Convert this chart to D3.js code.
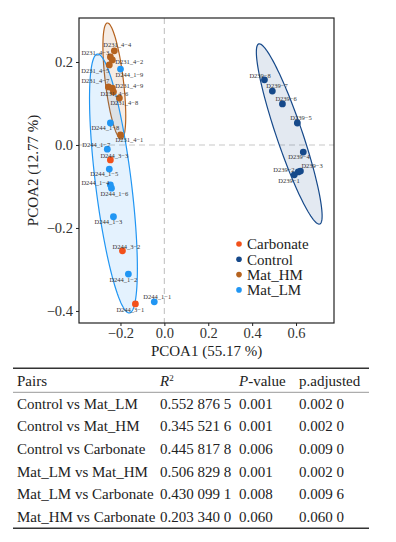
<!DOCTYPE html>
<html>
<head>
<meta charset="utf-8">
<script src="https://cdn.jsdelivr.net/npm/d3@7.9.0/dist/d3.min.js"></script>
<style>
  body { margin: 0; background: #fff; }
  svg text { font-family: "Liberation Serif", "Times New Roman", serif; }
</style>
</head>
<body>
<svg id="chart" width="396" height="542"></svg>
<script>
// sample scores on PCOA1 / PCOA2
const groups = ['Carbonate', 'Control', 'Mat_HM', 'Mat_LM'];
const groupColors = ['#f2511b', '#16498a', '#b5621e', '#2196f3'];

const sampleNames = [
  'D239−8', 'D239−7', 'D239−6', 'D239−5', 'D239−4', 'D239−3', 'D239−2', 'D239−1',
  'D231_4−4', 'D231_4−3', 'D231_4−2', 'D231_4−5', 'D231_4−7', 'D231_4−9', 'D231_4−6', 'D231_4−8', 'D231_4−1',
  'D244_1−9', 'D244_1−8', 'D244_1−7', 'D244_1−5', 'D244_1−4', 'D244_1−6', 'D244_1−3', 'D244_1−2', 'D244_1−1',
  'D244_3−3', 'D244_3−2', 'D244_3−1'
];
const sampleGroup = [
  'Control', 'Control', 'Control', 'Control', 'Control', 'Control', 'Control', 'Control',
  'Mat_HM', 'Mat_HM', 'Mat_HM', 'Mat_HM', 'Mat_HM', 'Mat_HM', 'Mat_HM', 'Mat_HM', 'Mat_HM',
  'Mat_LM', 'Mat_LM', 'Mat_LM', 'Mat_LM', 'Mat_LM', 'Mat_LM', 'Mat_LM', 'Mat_LM', 'Mat_LM',
  'Carbonate', 'Carbonate', 'Carbonate'
];
const pcoa1 = [
  0.456, 0.492, 0.538, 0.606, 0.633, 0.620, 0.610, 0.592,
  -0.228, -0.246, -0.237, -0.251, -0.255, -0.237, -0.232, -0.205, -0.200,
  -0.200, -0.246, -0.260, -0.251, -0.246, -0.241, -0.232, -0.164, -0.046,
  -0.246, -0.191, -0.132
];
const pcoa2 = [
  0.157, 0.130, 0.099, 0.053, -0.017, -0.063, -0.065, -0.072,
  0.227, 0.212, 0.205, 0.193, 0.140, 0.137, 0.128, 0.113, 0.024,
  0.183, 0.053, -0.010, -0.058, -0.096, -0.104, -0.173, -0.311, -0.378,
  -0.036, -0.255, -0.383
];

// confidence ellipses: centre and two conjugate half-axes, in data units
const ellipseGroups = ['Control', 'Mat_HM', 'Mat_LM'];
const ellipseCx = [0.569, -0.228, -0.232];
const ellipseCy = [0.0265, 0.154, -0.0928];
const ellipseMajor = [[0.139, -0.217], [0.032, -0.140], [0.073, -0.312]];
const ellipseMinor = [[0.056, 0.010], [0.041, 0.0026], [0.081, 0.0053]];

const xTicks = [-0.2, 0.0, 0.2, 0.4, 0.6];
const yTicks = [0.2, 0.0, -0.2, -0.4];

// PERMANOVA pairwise table
const pairs = ['Control vs Mat_LM', 'Control vs Mat_HM', 'Control vs Carbonate',
  'Mat_LM vs Mat_HM', 'Mat_LM vs Carbonate', 'Mat_HM vs Carbonate'];
const r2 = ['0.552 876 5', '0.345 521 6', '0.445 817 8', '0.506 829 8', '0.430 099 1', '0.203 340 0'];
const pValue = ['0.001', '0.001', '0.006', '0.001', '0.008', '0.060'];
const pAdjusted = ['0.002 0', '0.002 0', '0.009 0', '0.002 0', '0.009 6', '0.060 0'];

// label placement (pixel nudges, like ggrepel)
const labelNudge = [
  [-15, -4], [-6, -5], [-7, -5], [-7, -5], [-15, 5], [1, -5], [-25, -2], [-16, 6],
  [-11, -6], [-29, -4], [3, 2], [-28, 6], [-27, -6], [3, -2], [-13, 2], [-9, 5], [-5, 5],
  [-5, 6], [-19, 5], [-25, -4], [-19, 5], [-29, -2], [-11, 6], [-19, 5], [-19, 6], [-11, -5],
  [-10, -4], [-10, -4], [-19, 6]
];

const svg = d3.select('#chart');
const plot = { left: 79, right: 334, top: 18, bottom: 323 };

const x = d3.scaleLinear().domain([-0.389, 0.773]).range([plot.left, plot.right]);
const y = d3.scaleLinear().domain([-0.429, 0.306]).range([plot.bottom, plot.top]);
const color = d3.scaleOrdinal().domain(groups).range(groupColors);

const samples = sampleNames.map((name, i) => ({
  name, group: sampleGroup[i], x: pcoa1[i], y: pcoa2[i], nudge: labelNudge[i]
}));

// zero reference lines
svg.append('line')
  .attr('x1', x(0)).attr('x2', x(0))
  .attr('y1', plot.top).attr('y2', plot.bottom)
  .attr('stroke', '#c8c8c8').attr('stroke-width', 1.2).attr('stroke-dasharray', '6,4');
svg.append('line')
  .attr('x1', plot.left).attr('x2', plot.right)
  .attr('y1', y(0)).attr('y2', y(0))
  .attr('stroke', '#c8c8c8').attr('stroke-width', 1.2).attr('stroke-dasharray', '6,4');

// ellipses
const ellipseLine = d3.line().x(d => x(d[0])).y(d => y(d[1])).curve(d3.curveLinearClosed);
ellipseGroups.forEach((g, i) => {
  const pts = d3.range(120).map(k => {
    const t = k / 120 * 2 * Math.PI;
    return [
      ellipseCx[i] + Math.cos(t) * ellipseMajor[i][0] + Math.sin(t) * ellipseMinor[i][0],
      ellipseCy[i] + Math.cos(t) * ellipseMajor[i][1] + Math.sin(t) * ellipseMinor[i][1]
    ];
  });
  svg.append('path')
    .attr('d', ellipseLine(pts))
    .attr('fill', color(g))
    .attr('fill-opacity', 0.12)
    .attr('stroke', color(g))
    .attr('stroke-width', 1.2);
});

// points
svg.append('g')
  .selectAll('circle')
  .data(samples)
  .join('circle')
  .attr('cx', d => x(d.x))
  .attr('cy', d => y(d.y))
  .attr('r', 3.4)
  .attr('fill', d => color(d.group));

// sample labels
svg.append('g')
  .selectAll('text')
  .data(samples)
  .join('text')
  .attr('x', d => x(d.x) + d.nudge[0])
  .attr('y', d => y(d.y) + d.nudge[1])
  .attr('dy', '0.35em')
  .attr('font-size', 6.5)
  .attr('fill', '#333')
  .text(d => d.name);

// frame
svg.append('rect')
  .attr('x', plot.left).attr('y', plot.top)
  .attr('width', plot.right - plot.left).attr('height', plot.bottom - plot.top)
  .attr('fill', 'none').attr('stroke', '#222').attr('stroke-width', 1.2);

const fmt = d3.format('.1f');
const xAxis = svg.append('g')
  .attr('transform', `translate(0,${plot.bottom})`)
  .call(d3.axisBottom(x).tickValues(xTicks).tickSize(3).tickPadding(1.5).tickFormat(fmt));
const yAxis = svg.append('g')
  .attr('transform', `translate(${plot.left},0)`)
  .call(d3.axisLeft(y).tickValues(yTicks).tickSize(3).tickPadding(3).tickFormat(fmt));
[xAxis, yAxis].forEach(a => {
  a.select('.domain').remove();
  a.selectAll('line').attr('stroke', '#222');
  a.selectAll('text')
    .attr('font-size', 14.5)
    .attr('fill', '#333');
});

svg.append('text')
  .attr('x', (plot.left + plot.right) / 2)
  .attr('y', 356)
  .attr('text-anchor', 'middle')
  .attr('font-size', 15)
  .attr('fill', '#222')
  .text('PCOA1 (55.17 %)');

svg.append('text')
  .attr('transform', `translate(38,${(plot.top + plot.bottom) / 2}) rotate(-90)`)
  .attr('text-anchor', 'middle')
  .attr('font-size', 15)
  .attr('fill', '#222')
  .text('PCOA2 (12.77 %)');

// legend
const legend = svg.append('g').attr('transform', 'translate(239,244)');
groups.forEach((g, i) => {
  const row = legend.append('g').attr('transform', `translate(0,${i * 15.3})`);
  row.append('circle').attr('r', 2.8).attr('fill', color(g));
  row.append('text')
    .attr('x', 8).attr('dy', '0.35em')
    .attr('font-size', 15)
    .attr('fill', '#222')
    .text(g);
});

// table
const table = svg.append('g');
const colX = [17, 160, 239, 299];
table.append('line').attr('x1', 13).attr('x2', 369).attr('y1', 368.3).attr('y2', 368.3)
  .attr('stroke', '#333').attr('stroke-width', 1.4);
table.append('line').attr('x1', 13).attr('x2', 369).attr('y1', 392.3).attr('y2', 392.3)
  .attr('stroke', '#999').attr('stroke-width', 1);
table.append('line').attr('x1', 13).attr('x2', 369).attr('y1', 528.3).attr('y2', 528.3)
  .attr('stroke', '#333').attr('stroke-width', 1.4);

const header = table.append('g').attr('font-size', 15).attr('fill', '#222');
header.append('text').attr('x', colX[0]).attr('y', 381).attr('dy', '0.35em').text('Pairs');
const rh = header.append('text').attr('x', colX[1]).attr('y', 381).attr('dy', '0.35em');
rh.append('tspan').attr('font-style', 'italic').text('R');
rh.append('tspan').attr('font-size', 9).attr('dy', '-0.6em').text('2');
const ph = header.append('text').attr('x', colX[2]).attr('y', 381).attr('dy', '0.35em');
ph.append('tspan').attr('font-style', 'italic').text('P');
ph.append('tspan').text('-value');
header.append('text').attr('x', colX[3]).attr('y', 381).attr('dy', '0.35em').text('p.adjusted');

const rowY = d3.scalePoint().domain(d3.range(pairs.length)).range([403.3, 516.7]);
pairs.forEach((p, i) => {
  const cells = [p, r2[i], pValue[i], pAdjusted[i]];
  cells.forEach((c, j) => {
    table.append('text')
      .attr('x', colX[j]).attr('y', rowY(i)).attr('dy', '0.35em')
      .attr('font-size', 15).attr('fill', '#222')
      .text(c);
  });
});
</script>
</body>
</html>
